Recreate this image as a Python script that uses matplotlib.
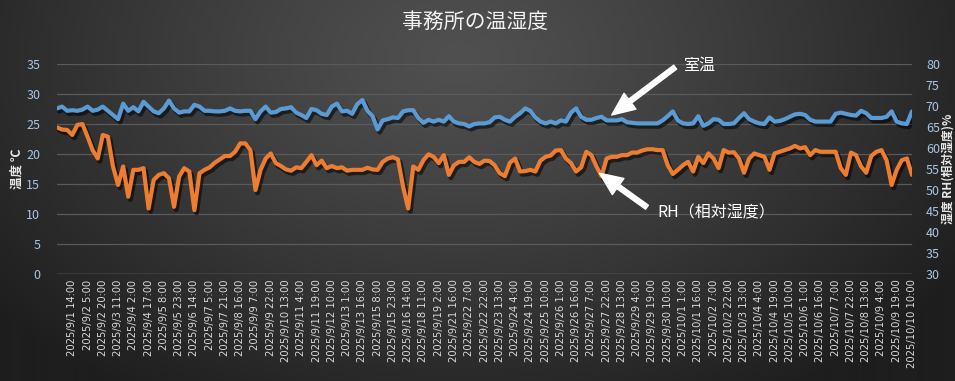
import numpy as np
import matplotlib
matplotlib.use("Agg")
import matplotlib.pyplot as plt
import matplotlib.patheffects as pe

plt.rcParams['font.family'] = ['Noto Sans CJK JP', 'DejaVu Sans']

# ---- data (sampled every 5 hourly categories) ----
step = 5
temp = [
    27.6, 27.9, 27.2, 27.3, 27.2, 27.4, 27.9, 27.2, 27.4, 27.9,
    27.2, 26.5, 25.8, 28.4, 27.2, 27.8, 27.1, 28.7, 27.9, 27.1,
    26.8, 27.6, 28.9, 27.6, 26.9, 27.1, 27.1, 28.2, 27.9, 27.2,
    27.2, 27.1, 27.1, 27.2, 27.6, 27.2, 27.1, 27.2, 27.2, 25.8,
    27.1, 27.9, 26.9, 27.0, 27.5, 27.6, 27.8, 26.9, 26.5, 26.0,
    27.5, 27.3, 26.7, 26.5, 27.9, 28.4, 27.1, 27.2, 26.7, 28.3,
    29.0, 27.2, 26.3, 24.1, 25.6, 25.8, 26.1, 26.0, 27.1, 27.3,
    27.3, 26.0, 25.2, 25.7, 25.4, 25.7, 25.4, 26.3, 25.4, 25.1,
    25.0, 24.6, 25.0, 25.1, 25.1, 25.3, 26.1, 26.2, 25.7, 25.4,
    26.2, 26.8, 27.6, 27.2, 26.1, 25.4, 25.1, 25.4, 25.1, 25.6,
    25.4, 26.9, 27.6, 26.2, 25.7, 25.7, 26.0, 26.2, 25.6, 25.6,
    25.6, 25.8, 25.3, 25.2, 25.1, 25.1, 25.1, 25.1, 25.1, 25.6,
    26.3, 27.1, 25.6, 25.1, 25.0, 25.1, 26.3, 24.7, 25.1, 25.8,
    25.7, 25.0, 25.0, 25.1, 26.0, 26.8, 25.8, 25.4, 25.1, 25.0,
    26.1, 25.4, 25.5, 25.8, 26.2, 26.6, 26.7, 26.5, 25.7, 25.4,
    25.4, 25.4, 25.4, 26.7, 26.9, 26.7, 26.5, 26.4, 27.2, 26.8,
    26.0, 26.0, 26.0, 26.2, 27.1, 25.4, 25.1, 25.0, 27.1,
]
rh = [
    64.9, 64.4, 64.3, 63.1, 65.5, 65.7, 62.7, 59.5, 57.5, 63.1,
    62.7, 55.6, 51.2, 55.6, 48.4, 54.8, 54.8, 55.2, 45.6, 52.4,
    53.6, 54.0, 52.8, 46.0, 53.2, 55.2, 54.4, 45.2, 54.0, 54.8,
    55.4, 56.5, 57.3, 58.1, 58.1, 59.1, 61.1, 61.1, 59.5, 50.0,
    54.8, 57.5, 58.7, 56.4, 55.7, 54.9, 54.6, 55.4, 55.2, 56.7,
    58.3, 55.9, 57.0, 55.2, 55.7, 55.2, 55.4, 54.6, 54.8, 54.8,
    54.8, 55.3, 54.9, 54.8, 56.7, 57.5, 57.8, 57.3, 50.8, 45.6,
    55.6, 54.8, 57.1, 58.5, 57.9, 56.4, 58.3, 53.6, 55.9, 56.7,
    56.7, 57.8, 56.7, 56.2, 57.0, 56.9, 55.9, 54.0, 53.3, 56.5,
    57.5, 54.4, 54.5, 54.8, 54.4, 57.0, 57.9, 58.2, 59.4, 59.5,
    57.5, 56.4, 54.4, 55.4, 59.1, 58.3, 55.6, 53.3, 57.5, 57.9,
    57.9, 58.3, 58.3, 58.9, 58.9, 59.4, 59.7, 59.7, 59.5, 59.5,
    55.9, 53.8, 54.8, 55.9, 56.7, 54.4, 57.9, 56.4, 58.7, 57.5,
    55.2, 59.5, 58.9, 59.0, 57.5, 54.1, 57.5, 58.7, 58.3, 57.9,
    54.8, 58.7, 59.1, 59.5, 59.9, 60.5, 59.9, 60.2, 58.3, 59.5,
    59.1, 59.1, 59.1, 59.1, 55.2, 53.6, 58.9, 58.3, 55.6, 54.1,
    58.1, 59.1, 59.5, 57.1, 51.2, 54.8, 57.1, 57.5, 53.6,
]
label_every = 15
xlabels = [
    "2025/9/1 14:00", "2025/9/2 5:00", "2025/9/2 20:00", "2025/9/3 11:00",
    "2025/9/4 2:00", "2025/9/4 17:00", "2025/9/5 8:00", "2025/9/5 23:00",
    "2025/9/6 14:00", "2025/9/7 5:00", "2025/9/7 21:00", "2025/9/8 16:00",
    "2025/9/9 7:00", "2025/9/9 22:00", "2025/9/10 13:00", "2025/9/11 4:00",
    "2025/9/11 19:00", "2025/9/12 10:00", "2025/9/13 1:00", "2025/9/13 16:00",
    "2025/9/15 8:00", "2025/9/15 23:00", "2025/9/16 14:00", "2025/9/18 11:00",
    "2025/9/19 2:00", "2025/9/21 16:00", "2025/9/22 7:00", "2025/9/22 22:00",
    "2025/9/23 13:00", "2025/9/24 4:00", "2025/9/24 19:00", "2025/9/25 10:00",
    "2025/9/26 1:00", "2025/9/26 16:00", "2025/9/27 7:00", "2025/9/27 22:00",
    "2025/9/28 13:00", "2025/9/29 4:00", "2025/9/29 19:00", "2025/9/30 10:00",
    "2025/10/1 1:00", "2025/10/1 16:00", "2025/10/2 7:00", "2025/10/2 22:00",
    "2025/10/3 13:00", "2025/10/4 4:00", "2025/10/4 19:00", "2025/10/5 10:00",
    "2025/10/6 1:00", "2025/10/6 16:00", "2025/10/7 7:00", "2025/10/7 22:00",
    "2025/10/8 13:00", "2025/10/9 4:00", "2025/10/9 19:00", "2025/10/10 10:00",
]
title = "事務所の温湿度"
ylabel_left = "温度 ℃"
ylabel_right = "湿度 RH(相対湿度)%"
note_temp = "室温"
note_rh = "RH（相対湿度）"

BLUE = "#5B9BD5"
ORANGE = "#ED7D31"

W, H = 955, 381
fig = plt.figure(figsize=(W / 100, H / 100), dpi=100)

# background radial gradient
bg = fig.add_axes([0, 0, 1, 1], zorder=-10)
yy, xx = np.mgrid[0:H, 0:W]
r = np.sqrt(((xx - W * 0.48) / (W * 0.62)) ** 2 + ((yy - H * 0.15) / (H * 1.05)) ** 2)
r = np.clip(r, 0, 1)
c0, c1 = 80, 30
img = c0 + (c1 - c0) * r ** 1.2
bg.imshow(np.dstack([img, img, img]) / 255.0, aspect='auto', extent=[0, 1, 0, 1])
bg.axis('off')

L, R = 57 / W, 912 / W
B, T = 1 - 274 / H, 1 - 64 / H
ax = fig.add_axes([L, B, R - L, T - B])
ax.set_facecolor('none')
ax2 = ax.twinx()
ax2.set_facecolor('none')

n = len(temp)
x = np.arange(n) * step
shadow = [pe.SimpleLineShadow(offset=(1.5, -2), shadow_color='black', alpha=0.55, linewidth=3.6), pe.Normal()]
ax.plot(x, temp, color=BLUE, lw=3.0, solid_joinstyle='round', solid_capstyle='round',
        path_effects=shadow, zorder=5)
ax2.plot(x, rh, color=ORANGE, lw=3.0, solid_joinstyle='round', solid_capstyle='round',
         path_effects=shadow, zorder=5)

ax.set_xlim(0, (n - 1) * step)
ax.set_ylim(0, 35)
ax2.set_ylim(30, 80)
ax.set_yticks(np.arange(0, 36, 5))
ax2.set_yticks(np.arange(30, 81, 5))

ticks = [(i + 1) * label_every for i in range(len(xlabels))]
ax.set_xticks(ticks)
ax.set_xticklabels(xlabels, rotation=90, fontsize=7.2, color='#D9D9D9', family=['DejaVu Sans'])

ax.grid(axis='y', color='#5A5A5A', lw=0.9)
ax.set_axisbelow(True)
for a in (ax, ax2):
    for s in a.spines.values():
        s.set_visible(False)
    a.tick_params(length=0)
ax.axhline(0, color='#6E6E6E', lw=1.0, zorder=1)

ax.tick_params(axis='y', labelsize=9, labelcolor='#A9C4E4', pad=12)
ax.tick_params(axis='x', pad=4)
ax2.tick_params(axis='y', labelsize=9, labelcolor='#A9C4E4', pad=10)

ax.set_ylabel(ylabel_left, color='#E8E8E8', fontsize=9, fontweight='bold', labelpad=2)
ax2.set_ylabel(ylabel_right, color='#E8E8E8', fontsize=8.5, fontweight='bold', rotation=90, labelpad=1)

fig.text(0.497, 1 - 22 / H, title, ha='center', va='center', fontsize=15, color='#F2F2F2', zorder=20)

# annotations
arrow_style = 'simple,head_length=1.5,head_width=1.3,tail_width=0.32'
ax.text(0.732, 0.995, note_temp, transform=ax.transAxes, fontsize=11.5, color='white',
        ha='left', va='center', zorder=20)
ax.annotate('', xy=(545, 26.5), xycoords='data', xytext=(0.723, 0.985), textcoords='axes fraction',
            arrowprops=dict(arrowstyle=arrow_style, color='white', mutation_scale=11,
                            shrinkA=0, shrinkB=0), zorder=20)
ax2.text(0.702, 0.29, note_rh, transform=ax2.transAxes, fontsize=11.5, color='white',
         ha='left', va='center', zorder=20)
ax2.annotate('', xy=(533, 54.0), xycoords='data', xytext=(0.690, 0.318), textcoords='axes fraction',
             arrowprops=dict(arrowstyle=arrow_style, color='white', mutation_scale=11,
                             shrinkA=0, shrinkB=0), zorder=20)

fig.savefig('out.png', dpi=100)
